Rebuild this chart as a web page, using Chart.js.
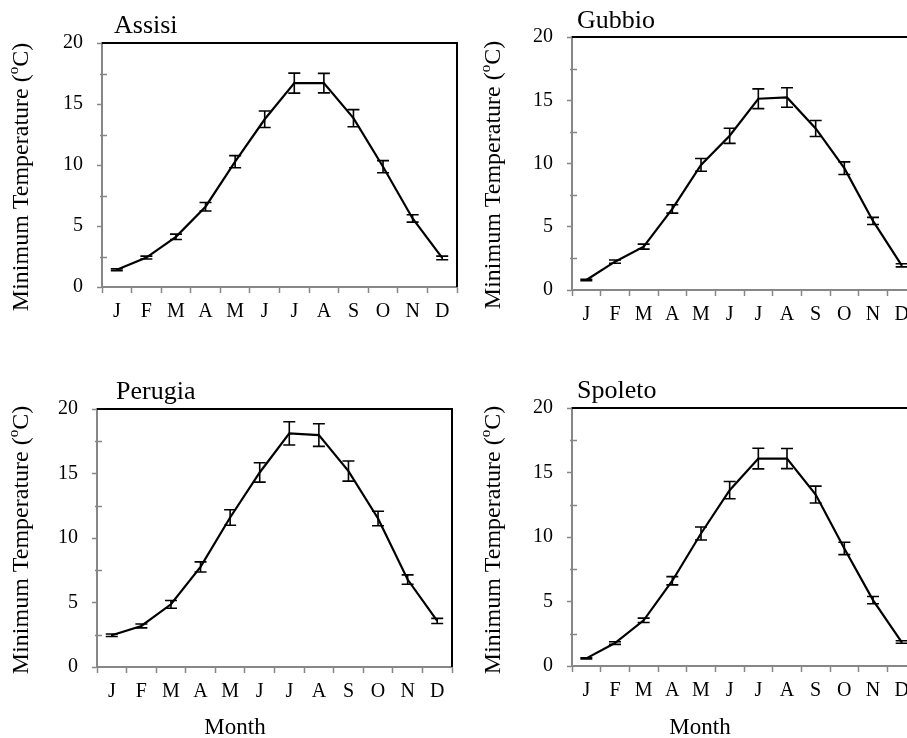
<!DOCTYPE html>
<html>
<head>
<meta charset="utf-8">
<title>Minimum temperature - Umbria</title>
<script src="https://cdn.jsdelivr.net/npm/chart.js@4.4.0/dist/chart.umd.min.js"></script>
<style>
  html, body { margin: 0; padding: 0; background: #fff; overflow: hidden; width: 907px; height: 738px; }
  canvas { position: absolute; }
</style>
</head>
<body>
<canvas id="assisi" width="470" height="345" style="left:0;top:0"></canvas>
<canvas id="gubbio" width="460" height="345" style="left:470px;top:0"></canvas>
<canvas id="perugia" width="470" height="373" style="left:0;top:365px"></canvas>
<canvas id="spoleto" width="460" height="373" style="left:470px;top:365px"></canvas>
<script>
const months = ['J', 'F', 'M', 'A', 'M', 'J', 'J', 'A', 'S', 'O', 'N', 'D'];
const yLabels = [0, 5, 10, 15, 20];

// monthly mean minimum temperature (°C) and error
const assisiMin = [1.42, 2.41, 4.11, 6.58, 10.27, 13.75, 16.71, 16.71, 13.84, 9.86, 5.62, 2.38];
const assisiErr = [0.08, 0.12, 0.22, 0.35, 0.5, 0.68, 0.82, 0.8, 0.7, 0.5, 0.3, 0.15];

const gubbioMin = [0.79, 2.24, 3.43, 6.41, 9.89, 12.19, 15.12, 15.22, 12.77, 9.63, 5.46, 1.95];
const gubbioErr = [0.05, 0.13, 0.2, 0.33, 0.5, 0.6, 0.78, 0.77, 0.63, 0.5, 0.28, 0.12];

const perugiaMin = [2.46, 3.18, 4.86, 7.76, 11.59, 15.08, 18.11, 17.98, 15.19, 11.51, 6.78, 3.57];
const perugiaErr = [0.1, 0.15, 0.3, 0.39, 0.6, 0.75, 0.9, 0.88, 0.78, 0.56, 0.36, 0.2];

const spoletoMin = [0.59, 1.78, 3.54, 6.61, 10.27, 13.63, 16.08, 16.08, 13.29, 9.11, 5.11, 1.86];
const spoletoErr = [0.05, 0.1, 0.17, 0.32, 0.5, 0.67, 0.8, 0.78, 0.65, 0.48, 0.28, 0.1];

const serif = "'Liberation Serif', 'Times New Roman', serif";
const axisGrey = '#878787';

function drawYTitle(ctx, cx, cy) {
  const a = 'Minimum Temperature (', b = 'o', c = 'C)';
  ctx.save();
  ctx.translate(cx, cy);
  ctx.rotate(-Math.PI / 2);
  ctx.fillStyle = '#000';
  ctx.textBaseline = 'alphabetic';
  ctx.font = '24px ' + serif;
  const wa = ctx.measureText(a).width, wc = ctx.measureText(c).width;
  ctx.font = '15px ' + serif;
  const wb = ctx.measureText(b).width;
  let x0 = -(wa + wb + wc) / 2;
  ctx.font = '24px ' + serif;
  ctx.fillText(a, x0, 7);
  ctx.font = '15px ' + serif;
  ctx.fillText(b, x0 + wa, -3);
  ctx.font = '24px ' + serif;
  ctx.fillText(c, x0 + wa + wb, 7);
  ctx.restore();
}

// error bars, minor ticks, frame and panel texts
const panelExtras = {
  id: 'panelExtras',
  afterDatasetsDraw(chart, args, opts) {
    const ctx = chart.ctx;
    const a = chart.chartArea;
    const x = chart.scales.x, y = chart.scales.y;
    const vals = chart.data.datasets[0].data;
    ctx.save();
    ctx.strokeStyle = '#000';
    ctx.lineWidth = 1.6;
    vals.forEach((v, i) => {
      const e = opts.err[i];
      const px = x.getPixelForValue(i);
      const hi = y.getPixelForValue(v + e), lo = y.getPixelForValue(v - e);
      ctx.beginPath();
      ctx.moveTo(px, hi); ctx.lineTo(px, lo);
      ctx.moveTo(px - 6, hi); ctx.lineTo(px + 6, hi);
      ctx.moveTo(px - 6, lo); ctx.lineTo(px + 6, lo);
      ctx.stroke();
    });

    // minor ticks inside the y axis
    ctx.strokeStyle = axisGrey;
    ctx.lineWidth = 1.5;
    for (let v = 2.5; v < 20; v += 5) {
      const py = Math.round(y.getPixelForValue(v)) + 0.5;
      ctx.beginPath();
      ctx.moveTo(a.left - 2, py); ctx.lineTo(a.left + 5, py);
      ctx.stroke();
    }

    // black frame along top and right
    ctx.strokeStyle = '#000';
    ctx.lineWidth = 2;
    ctx.beginPath();
    ctx.moveTo(a.left, a.top);
    ctx.lineTo(a.right, a.top);
    ctx.lineTo(a.right, a.bottom);
    ctx.stroke();

    ctx.fillStyle = '#000';
    ctx.textBaseline = 'alphabetic';
    ctx.textAlign = 'left';
    ctx.font = '26px ' + serif;
    ctx.fillText(opts.name, opts.nameX, opts.nameY);

    drawYTitle(ctx, opts.titleX, opts.titleY);

    if (opts.monthX) {
      ctx.textAlign = 'center';
      ctx.font = '23px ' + serif;
      ctx.fillText('Month', opts.monthX, opts.monthY);
    }
    ctx.restore();
  }
};

function makePanel(id, name, values, errs, box) {
  const canvas = document.getElementById(id);
  const xHeight = 40;
  new Chart(canvas, {
    type: 'line',
    data: {
      labels: months,
      datasets: [{
        data: values,
        borderColor: '#000',
        borderWidth: 2.2,
        pointRadius: 0,
        tension: 0,
        fill: false
      }]
    },
    options: {
      responsive: false,
      animation: false,
      devicePixelRatio: 1,
      events: [],
      layout: {
        padding: {
          left: 0,
          top: box.top,
          right: canvas.width - box.right,
          bottom: canvas.height - box.bottom - xHeight
        }
      },
      plugins: {
        legend: { display: false },
        tooltip: { enabled: false },
        panelExtras: {
          err: errs,
          name: name,
          nameX: box.nameX, nameY: box.nameY,
          titleX: box.titleX, titleY: box.titleY,
          monthX: box.monthX, monthY: box.monthY
        }
      },
      scales: {
        x: {
          type: 'category',
          offset: true,
          afterFit: (s) => { s.height = xHeight; },
          grid: {
            offset: true,
            drawOnChartArea: false,
            drawTicks: true,
            tickLength: 6,
            tickColor: axisGrey,
            tickWidth: 1.5
          },
          border: { display: true, color: axisGrey, width: 2 },
          ticks: {
            autoSkip: false,
            maxRotation: 0,
            padding: 7,
            color: '#000',
            font: { family: serif, size: 20 }
          }
        },
        y: {
          min: 0,
          max: 20,
          afterFit: (s) => { s.width = box.left; },
          grid: {
            drawOnChartArea: false,
            drawTicks: true,
            tickLength: 5,
            tickColor: axisGrey,
            tickWidth: 1.5
          },
          border: { display: true, color: axisGrey, width: 2 },
          ticks: {
            stepSize: 5,
            padding: 14,
            color: '#000',
            font: { family: serif, size: 20 },
            callback: (v) => yLabels.includes(v) ? String(v) : ''
          }
        }
      }
    },
    plugins: [panelExtras]
  });
}

makePanel('assisi', 'Assisi', assisiMin, assisiErr,
  { left: 102, right: 457, top: 43, bottom: 287, nameX: 114, nameY: 33, titleX: 21, titleY: 177 });
makePanel('gubbio', 'Gubbio', gubbioMin, gubbioErr,
  { left: 102, right: 446, top: 37, bottom: 290, nameX: 107, nameY: 28, titleX: 23, titleY: 175 });
makePanel('perugia', 'Perugia', perugiaMin, perugiaErr,
  { left: 97, right: 452, top: 44, bottom: 302, nameX: 116, nameY: 34, titleX: 21, titleY: 175, monthX: 235, monthY: 369 });
makePanel('spoleto', 'Spoleto', spoletoMin, spoletoErr,
  { left: 102, right: 446, top: 43, bottom: 301, nameX: 107, nameY: 33, titleX: 23, titleY: 175, monthX: 230, monthY: 369 });
</script>
</body>
</html>
